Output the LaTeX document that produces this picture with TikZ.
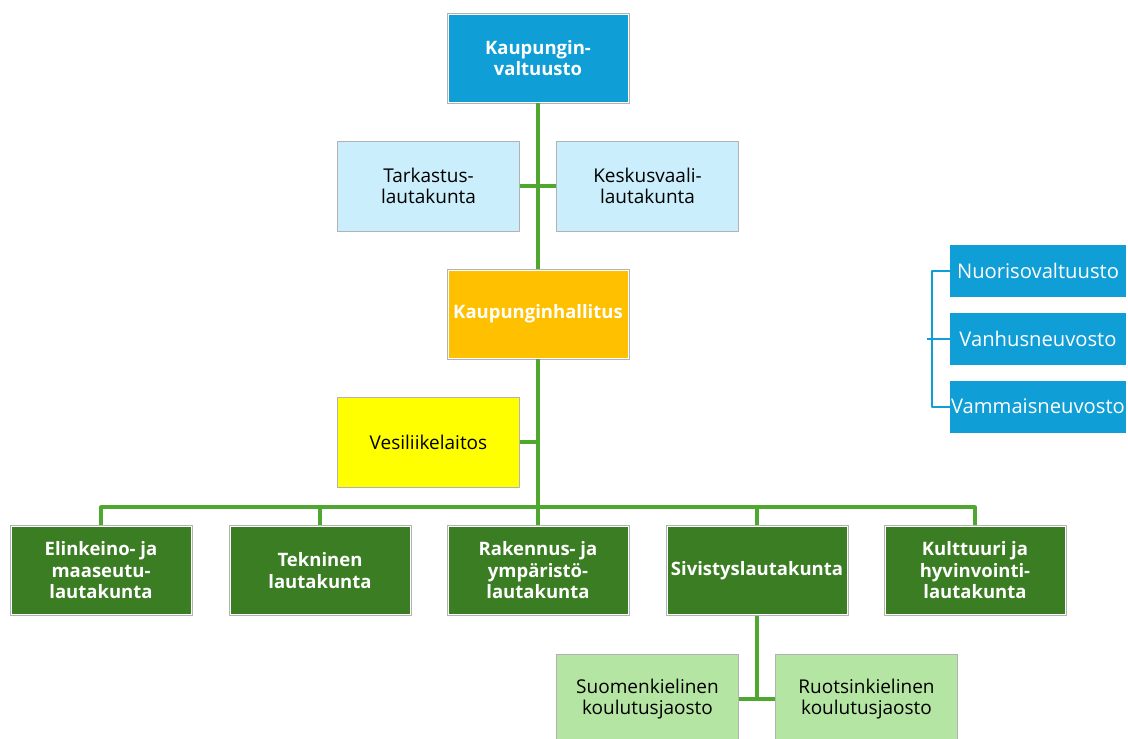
\documentclass[tikz,border=0pt]{standalone}
\usepackage{fontspec}
\setmainfont{Open Sans}
\definecolor{accblue}{HTML}{0F9ED5}
\definecolor{lightblue}{HTML}{CAEEFB}
\definecolor{darkgreen}{HTML}{3B7D23}
\definecolor{linegreen}{HTML}{4EA72E}
\definecolor{lightgreen}{HTML}{B4E5A2}
\definecolor{gold}{HTML}{FFC000}
\definecolor{vesiyellow}{HTML}{FFFF00}
\tikzset{
	box/.style={minimum width=182pt, minimum height=90pt, inner sep=0pt, align=center},
	darkbox/.style={box, fill=#1, draw=gray!60, line width=0.8pt, text=white,
		font=\fontsize{18.5}{21.5}\selectfont\bfseries,
		path picture={\draw[white, line width=3pt] (path picture bounding box.south west) rectangle (path picture bounding box.north east);}},
	lightbox/.style={box, fill=#1, draw=gray!60, line width=0.6pt, text=black},
	sidebox/.style={minimum width=176pt, minimum height=52pt, inner sep=0pt, fill=accblue, text=white,
		font=\fontsize{20.2}{23}\selectfont},
	link/.style={draw=linegreen, line width=3.2pt},
	blink/.style={draw=accblue, line width=2pt}
}
\begin{document}
\begin{tikzpicture}[x=1pt, y=-1pt, line join=round, font=\fontsize{19}{21.5}\selectfont]
	\useasboundingbox (0,0) rectangle (1128,739);
	\clip (0,0) rectangle (1128,739);
	\node[darkbox=accblue] (valt) at (538,58) {Kaupungin-\\valtuusto};
	\node[lightbox=lightblue] (tark) at (428.5,186) {Tarkastus-\\lautakunta};
	\node[lightbox=lightblue] (kesk) at (647.5,186) {Keskusvaali-\\lautakunta};
	\node[darkbox=gold] (hall) at (538,314) {Kaupunginhallitus};
	\node[lightbox=vesiyellow] (vesi) at (428.5,442) {Vesiliikelaitos};
	\foreach \n/\x/\t in {eli/101/Elinkeino- ja\\maaseutu-\\lautakunta,
		tek/320/Tekninen\\lautakunta,
		rak/538/Rakennus- ja\\ympäristö-\\lautakunta,
		siv/757/Sivistyslautakunta,
		kult/975/Kulttuuri ja\\hyvinvointi-\\lautakunta}{
		\node[darkbox=darkgreen] (\n) at (\x,570.5) {\t};
	}
	\node[lightbox=lightgreen] (suom) at (647.5,699) {Suomenkielinen\\koulutusjaosto};
	\node[lightbox=lightgreen] (ruot) at (866.5,699) {Ruotsinkielinen\\koulutusjaosto};
	\node[sidebox] (nuor) at (1038,271) {Nuorisovaltuusto};
	\node[sidebox] (vanh) at (1038,339) {Vanhusneuvosto};
	\node[sidebox] (vamm) at (1038,406.5) {Vammaisneuvosto};
	\coordinate (bus) at (538,507);
	\draw[link] (valt.south) -- (hall.north);
	\draw[link] (tark.east) -- (kesk.west);
	\draw[link] (hall.south) -- (rak.north);
	\draw[link] (vesi.east) -- (vesi.east -| hall.south);
	\draw[link] (eli.north) |- (bus) -| (kult.north);
	\foreach \n in {tek,siv}
		\draw[link] (\n.north) -- (\n.north |- bus);
	\draw[link] (suom.east) -- (ruot.west);
	\draw[link] (siv.south) -- (siv.south |- suom.east);
	\draw[blink] (nuor.west) -- ++(-18,0) |- (vamm.west);
	\draw[blink] (vanh.west) -- ++(-23,0);
\end{tikzpicture}
\end{document}
